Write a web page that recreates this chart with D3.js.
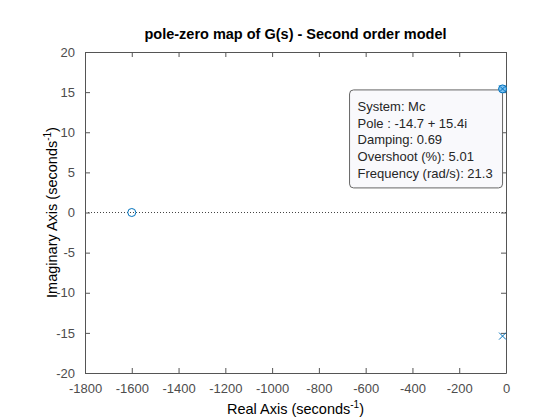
<!DOCTYPE html>
<html>
<head>
<meta charset="utf-8" />
<title>pzmap</title>
<script src="https://d3js.org/d3.v7.min.js"></script>
<style>
  body { margin: 0; background: #fff; }
  text { font-family: "Liberation Sans", Arial, sans-serif; }
</style>
</head>
<body>
<div id="chart"></div>
<script>
// pole / zero locations of the second order model
var poleRe = [-14.7, -14.7];
var poleIm = [15.4, -15.4];
var zeroRe = [-1600];
var zeroIm = [0];

var xTicks = [-1800, -1600, -1400, -1200, -1000, -800, -600, -400, -200, 0];
var yTicks = [-20, -15, -10, -5, 0, 5, 10, 15, 20];

var tipLines = ['System: Mc', 'Pole : -14.7 + 15.4i', 'Damping: 0.69',
                'Overshoot (%): 5.01', 'Frequency (rad/s): 21.3'];

var W = 560, H = 420;
var padL = 85, padR = 506, padT = 52, padB = 373;
var blue = '#0072BD', axisCol = '#555';

var svg = d3.select('#chart').append('svg')
    .attr('width', W).attr('height', H);

var x = d3.scaleLinear().domain([-1800, 0]).range([padL, padR]);
var y = d3.scaleLinear().domain([-20, 20]).range([padB, padT]);
var fmt = function(d) { return String(d); };

// zero line (dotted)
svg.append('line')
    .attr('x1', padL).attr('x2', padR)
    .attr('y1', y(0)).attr('y2', y(0))
    .attr('stroke', '#444').attr('stroke-width', 1)
    .attr('stroke-dasharray', '1,2');

// axes with inward ticks, box style
function styleAxis(g) {
    g.selectAll('path').attr('stroke', axisCol);
    g.selectAll('line').attr('stroke', axisCol);
    g.selectAll('text').attr('fill', '#4d4d4d').style('font-size', '13px')
        .style('font-family', '"Liberation Sans", Arial, sans-serif');
}
svg.append('g').attr('transform', 'translate(0,' + padB + ')')
    .call(d3.axisBottom(x).tickValues(xTicks).tickFormat(fmt).tickSizeInner(-5).tickSizeOuter(0).tickPadding(11))
    .call(styleAxis);
svg.append('g').attr('transform', 'translate(0,' + padT + ')')
    .call(d3.axisTop(x).tickValues(xTicks).tickSizeInner(-5).tickSizeOuter(0).tickFormat(''))
    .call(styleAxis);
svg.append('g').attr('transform', 'translate(' + padL + ',0)')
    .call(d3.axisLeft(y).tickValues(yTicks).tickFormat(fmt).tickSizeInner(-5).tickSizeOuter(0).tickPadding(10))
    .call(styleAxis);
svg.append('g').attr('transform', 'translate(' + padR + ',0)')
    .call(d3.axisRight(y).tickValues(yTicks).tickSizeInner(-5).tickSizeOuter(0).tickFormat(''))
    .call(styleAxis);

// zeros
svg.selectAll('.zero').data(zeroRe).enter().append('circle')
    .attr('cx', function(d) { return x(d); })
    .attr('cy', function(d, i) { return y(zeroIm[i]); })
    .attr('r', 4).attr('fill', 'none').attr('stroke', blue).attr('stroke-width', 1);

// poles
var poles = svg.selectAll('.pole').data(poleRe).enter().append('g')
    .attr('transform', function(d, i) { return 'translate(' + x(d) + ',' + y(poleIm[i]) + ')'; });
poles.append('path').attr('d', 'M-3.5,-3.5L3.5,3.5M-3.5,3.5L3.5,-3.5')
    .attr('stroke', blue).attr('stroke-width', 1);

// datatip on the upper pole
var px = x(poleRe[0]), py = y(poleIm[0]);
var tw = 153, th = 98;
svg.append('rect')
    .attr('x', px - tw).attr('y', py + 1).attr('width', tw).attr('height', th)
    .attr('rx', 4).attr('fill', '#f9f9fc').attr('stroke', '#666').attr('stroke-width', 1);
svg.selectAll('.tip').data(tipLines).enter().append('text')
    .attr('x', px - tw + 8)
    .attr('y', function(d, i) { return py + 22 + i * 16.7; })
    .attr('fill', '#262626').style('font-size', '13px')
    .text(function(d) { return d; });
svg.append('circle').attr('cx', px).attr('cy', py).attr('r', 4)
    .attr('fill', '#7cc0f0').attr('stroke', blue).attr('stroke-width', 1);
svg.append('path').attr('transform', 'translate(' + px + ',' + py + ')')
    .attr('d', 'M-2.5,-2.5L2.5,2.5M-2.5,2.5L2.5,-2.5')
    .attr('stroke', blue).attr('stroke-width', 1);

// title and labels
svg.append('text').attr('x', (padL + padR) / 2).attr('y', 39)
    .attr('text-anchor', 'middle').style('font-size', '14.5px').style('font-weight', 'bold')
    .attr('fill', '#000').text('pole-zero map of G(s) - Second order model');

var xl = svg.append('text').attr('x', (padL + padR) / 2).attr('y', 414)
    .attr('text-anchor', 'middle').style('font-size', '14.5px').attr('fill', '#000');
xl.append('tspan').text('Real Axis (seconds');
xl.append('tspan').attr('dy', -6).style('font-size', '10px').text('-1');
xl.append('tspan').attr('dy', 6).text(')');

var yl = svg.append('text')
    .attr('transform', 'translate(57,' + (padT + padB) / 2 + ') rotate(-90)')
    .attr('text-anchor', 'middle').style('font-size', '14.5px').attr('fill', '#000');
yl.append('tspan').text('Imaginary Axis (seconds');
yl.append('tspan').attr('dy', -6).style('font-size', '10px').text('-1');
yl.append('tspan').attr('dy', 6).text(')');
</script>
</body>
</html>
